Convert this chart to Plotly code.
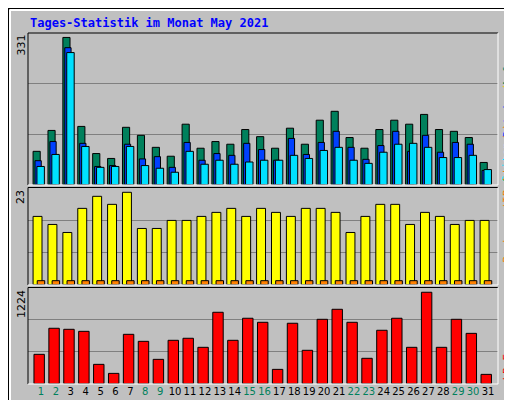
import plotly.graph_objects as go

days = list(range(1, 32))
weekend = [1, 2, 8, 9, 15, 16, 22, 23, 29, 30]

hits = [75, 122, 331, 131, 70, 59, 129, 111, 84, 64, 136, 82, 97, 91, 124, 108,
        82, 127, 91, 145, 165, 106, 82, 124, 145, 136, 158, 124, 120, 106, 50]
files = [54, 97, 308, 93, 41, 43, 91, 58, 63, 39, 95, 55, 70, 66, 93, 79,
         55, 104, 68, 95, 120, 84, 57, 88, 120, 75, 111, 73, 95, 91, 32]
pages = [41, 68, 297, 86, 39, 41, 86, 43, 37, 28, 75, 46, 55, 46, 51, 55,
         55, 66, 59, 77, 84, 55, 48, 73, 91, 93, 84, 61, 61, 66, 34]
visits = [17, 15, 13, 19, 22, 20, 23, 14, 14, 16, 16, 17, 18, 19, 17, 19,
          18, 17, 19, 19, 18, 13, 17, 20, 20, 15, 18, 17, 15, 16, 16]
sites = [1] * 31
kbytes = [393, 742, 728, 701, 259, 138, 661, 567, 326, 581, 608, 487, 956, 581, 876, 822,
          192, 809, 447, 862, 996, 822, 340, 715, 876, 487, 1224, 487, 862, 674, 125]

W, H = 512, 400
def ydom(top, bot):
    return [1 - bot / H, 1 - top / H]

fig = go.Figure()
line = dict(color="black", width=1)

def bars(y, color, off, w, ax):
    fig.add_trace(go.Bar(x=days, y=y, offset=off, width=w, marker=dict(color=color, line=line),
                         xaxis="x", yaxis=ax, showlegend=False, hoverinfo="y"))

bars(hits, "#00805C", -0.53, 0.48, "y")
bars(files, "#0040FF", -0.4, 0.42, "y")
bars(pages, "#00E0FF", -0.27, 0.5, "y")
bars(visits, "#FFFF00", -0.53, 0.6, "y2")
bars(sites, "#FF8000", -0.25, 0.5, "y2")
bars(kbytes, "#FF0000", -0.47, 0.7, "y3")

ticktext = [f"<span style='color:{'#00805C' if d in weekend else 'black'}'>{d}</span>" for d in days]

common = dict(showticklabels=False, ticks="", zeroline=False, showline=False,
              gridcolor="#808080", gridwidth=1, fixedrange=True)
fig.update_layout(
    width=W, height=H, margin=dict(l=0, r=0, t=0, b=0),
    paper_bgcolor="#C0C0C0", plot_bgcolor="#C0C0C0", barmode="overlay",
    font=dict(family="DejaVu Sans", size=11, color="black"),
    xaxis=dict(domain=[20 / W, 490 / W], range=[0.13, 31.67], tickvals=days, ticktext=ticktext,
               tickangle=0, showgrid=False, zeroline=False, ticks="", anchor="y3", fixedrange=True,
               tickfont=dict(family="DejaVu Sans", size=10)),
    yaxis=dict(domain=ydom(25, 176.7), range=[0, 341], tickvals=[113, 227], **common),
    yaxis2=dict(domain=ydom(180, 276.7), range=[0, 24.07], tickvals=[8, 16], **common),
    yaxis3=dict(domain=ydom(280, 375.7), range=[0, 1281], tickvals=[427, 854], **common),
)

# panel frames: dark top/left, white bottom/right
shapes = []
for top, bot in [(25, 177), (179.5, 277), (279.5, 376)]:
    shapes += [
        dict(type="line", xref="paper", yref="paper", x0=20 / W, x1=490 / W, y0=1 - top / H, y1=1 - top / H, line=line),
        dict(type="line", xref="paper", yref="paper", x0=20 / W, x1=20 / W, y0=1 - top / H, y1=1 - bot / H, line=line),
        dict(type="line", xref="paper", yref="paper", x0=20 / W, x1=490 / W, y0=1 - bot / H, y1=1 - bot / H, line=dict(color="white", width=1)),
        dict(type="line", xref="paper", yref="paper", x0=490 / W, x1=490 / W, y0=1 - top / H, y1=1 - bot / H, line=dict(color="white", width=1)),
    ]
# outer bevel
shapes += [
    dict(type="rect", xref="paper", yref="paper", x0=1 - 8 / W, x1=1 - 1 / W, y0=1 / H, y1=1 - 5 / H, fillcolor="#808080", line=dict(width=0)),
    dict(type="rect", xref="paper", yref="paper", x0=5 / W, x1=1 - 1 / W, y0=1 / H, y1=6 / H, fillcolor="#808080", line=dict(width=0)),
    dict(type="rect", xref="paper", yref="paper", x0=0, x1=1, y0=0, y1=1, line=dict(color="black", width=2)),
    dict(type="line", xref="paper", yref="paper", x0=2 / W, x1=2 / W, y0=2 / H, y1=1 - 2 / H, line=dict(color="white", width=2)),
    dict(type="line", xref="paper", yref="paper", x0=2 / W, x1=1 - 2 / W, y0=1 - 2 / H, y1=1 - 2 / H, line=dict(color="white", width=2)),
]
fig.update_layout(shapes=shapes)

ann = [
    dict(text="<b>Tages-Statistik im Monat May 2021</b>", x=20 / W, y=1 - 15 / H, xanchor="left", yanchor="middle",
         font=dict(family="DejaVu Sans Mono", size=12, color="#0000FF")),
    dict(text="331", x=13 / W, y=1 - 25 / H, textangle=-90, yanchor="top"),
    dict(text="23", x=13 / W, y=1 - 180 / H, textangle=-90, yanchor="top"),
    dict(text="1224", x=13 / W, y=1 - 280 / H, textangle=-90, yanchor="top"),
]
# right-hand legend pieces, stacked bottom to top
legend = [("Seiten", "#00E0FF", 176), ("/", "#FF8000", 136), ("Dateien", "#0040FF", 131),
          ("/", "#FFD000", 86), ("Anfragen", "#00805C", 81),
          ("Rechner (IP-Adressen)", "#FF8000", 257), ("kB F", "#FF0000", 375)]
for txt, col, ybot in legend:
    ann.append(dict(text=txt, x=499 / W, y=1 - ybot / H, textangle=-90, yanchor="bottom",
                    font=dict(family="DejaVu Sans Mono", size=11, color=col)))
for a in ann:
    a.setdefault("xref", "paper"); a.setdefault("yref", "paper"); a.setdefault("showarrow", False)
    a.setdefault("xanchor", "center")
fig.update_layout(annotations=ann)

fig.write_html("out.html")
